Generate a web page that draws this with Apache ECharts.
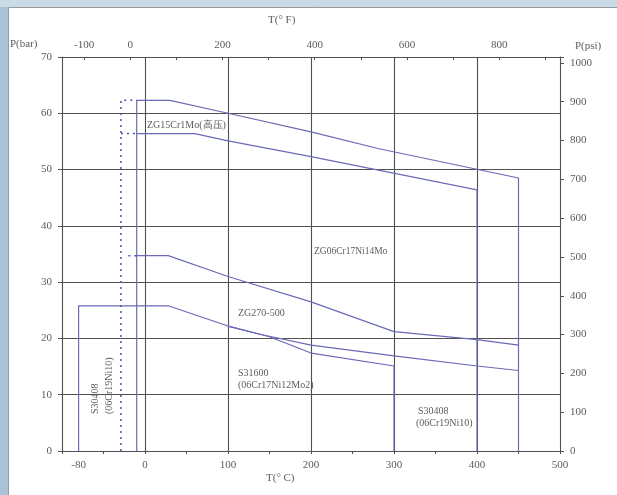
<!DOCTYPE html>
<html>
<head>
<meta charset="utf-8">
<script src="https://cdn.jsdelivr.net/npm/echarts@6/dist/echarts.min.js"></script>
<style>
html, body { margin: 0; padding: 0; background: #fff; }
#chart { width: 617px; height: 495px; }
</style>
</head>
<body>
<div id="chart"></div>
<script>
'use strict';

// 轴刻度 (T in °C on the bottom, °F on top; P in bar on the left, psi on the right)
var tempLabels = [-80, 0, 100, 200, 300, 400, 500];
var fahrLabels = [-100, 0, 200, 400, 600, 800];
var fahrTicks = [-100, 0, 100, 200, 300, 400, 500, 600, 700, 800, 900];

// ZG15Cr1Mo(高压) 外包线
var hiTemp = [-10, -10, 30, 100, 200, 282, 450, 450];
var hiBar = [0, 62.3, 62.3, 60.0, 56.7, 53.7, 48.5, 0];
// ZG06Cr17Ni14Mo
var moTemp = [-10, 60, 100, 200, 400, 400];
var moBar = [56.4, 56.4, 55.1, 52.3, 46.4, 0];
// ZG270-500
var csTemp = [-10, 28, 100, 200, 300, 400, 450];
var csBar = [34.7, 34.7, 31.0, 26.5, 21.2, 19.8, 18.8];
// S30408 (06Cr19Ni10)
var s304Temp = [-80, -80, 28, 100, 140, 200, 300, 400, 450];
var s304Bar = [0, 25.8, 25.8, 22.2, 20.7, 18.8, 16.9, 15.1, 14.3];
// S31600 (06Cr17Ni12Mo2)
var s316Temp = [100, 150, 200, 300, 300];
var s316Bar = [22.2, 20.3, 17.4, 15.1, 0];
// 虚线 (-29℃)
var dotTemp1 = [-29, -29, -10];
var dotBar1 = [0, 62.3, 62.3];
var dotTemp2 = [-29, -10];
var dotBar2 = [56.4, 56.4];
var dotTemp3 = [-20, -10];
var dotBar3 = [34.7, 34.7];

var BAR_TO_PSI = 14.5038;
var serif = '"Liberation Serif", "DejaVu Serif", serif';
var gridColor = '#505050';
var lineColor = '#6a6ab8';
var textColor = '#5c5c5c';

function pairs(xs, ys) {
  return xs.map(function (x, i) { return [x, ys[i]]; });
}

function solid(name, xs, ys) {
  return {
    name: name,
    type: 'line',
    data: pairs(xs, ys),
    symbol: 'none',
    silent: true,
    lineStyle: { color: lineColor, width: 1.2 }
  };
}

function dotted(name, xs, ys) {
  return {
    name: name,
    type: 'line',
    data: pairs(xs, ys),
    symbol: 'none',
    silent: true,
    lineStyle: { color: '#5050a8', width: 1.5, type: [2, 4] }
  };
}

function txt(x, y, s, size, rot) {
  return {
    type: 'text',
    x: x,
    y: y,
    rotation: rot || 0,
    style: {
      text: s,
      fill: textColor,
      font: (size || 10) + 'px ' + serif,
      textVerticalAlign: 'middle'
    },
    z: 10
  };
}

var myChart = echarts.init(document.getElementById('chart'));

var option = {
  animation: false,
  backgroundColor: '#fff',
  grid: { left: 62, right: 57, top: 57, bottom: 44 },
  xAxis: [{
    type: 'value',
    position: 'bottom',
    min: -100,
    max: 500,
    interval: 100,
    axisLine: { onZero: false, lineStyle: { color: gridColor } },
    axisTick: { length: 3, lineStyle: { color: gridColor } },
    minorTick: { show: true, splitNumber: 2, length: 3, lineStyle: { color: gridColor } },
    axisLabel: { customValues: tempLabels, color: textColor, fontFamily: serif, fontSize: 11, margin: 9 },
    splitLine: { show: true, lineStyle: { color: gridColor, width: 1.1 } }
  }, {
    type: 'value',
    position: 'top',
    min: -148,
    max: 932,
    axisLine: { onZero: false, lineStyle: { color: gridColor } },
    axisTick: { customValues: fahrTicks, inside: true, length: 3, lineStyle: { color: gridColor } },
    axisLabel: { customValues: fahrLabels, color: textColor, fontFamily: serif, fontSize: 11, margin: 6 },
    splitLine: { show: false }
  }],
  yAxis: [{
    type: 'value',
    position: 'left',
    min: 0,
    max: 70,
    interval: 10,
    axisLine: { show: true, onZero: false, lineStyle: { color: gridColor } },
    axisTick: { show: true, length: 4, lineStyle: { color: gridColor } },
    axisLabel: { color: textColor, fontFamily: serif, fontSize: 11, margin: 10 },
    splitLine: { show: true, lineStyle: { color: gridColor, width: 1.1 } }
  }, {
    type: 'value',
    position: 'right',
    min: 0,
    max: 70 * BAR_TO_PSI,
    interval: 100,
    axisLine: { show: true, onZero: false, lineStyle: { color: gridColor } },
    axisTick: { show: true, length: 4, lineStyle: { color: gridColor } },
    axisLabel: { color: textColor, fontFamily: serif, fontSize: 11, margin: 10,
      formatter: function (v) { return v > 1001 ? '' : Math.round(v); } },
    splitLine: { show: false }
  }],
  series: [
    solid('ZG15Cr1Mo(高压)', hiTemp, hiBar),
    solid('ZG06Cr17Ni14Mo', moTemp, moBar),
    solid('ZG270-500', csTemp, csBar),
    solid('S30408', s304Temp, s304Bar),
    solid('S31600', s316Temp, s316Bar),
    dotted('dot1', dotTemp1, dotBar1),
    dotted('dot2', dotTemp2, dotBar2),
    dotted('dot3', dotTemp3, dotBar3)
  ],
  graphic: [
    // 截图边框
    { type: 'rect', shape: { x: 0, y: 0, width: 8, height: 495 }, style: { fill: '#a8c2d6' }, z: 0 },
    { type: 'rect', shape: { x: 0, y: 0, width: 617, height: 7 }, style: { fill: '#c8dbe6' }, z: 0 },
    { type: 'rect', shape: { x: 8.5, y: 7.5, width: 620, height: 500 }, style: { fill: 'none', stroke: '#9a9a9a', lineWidth: 1 }, z: 0 },
    txt(268, 20, 'T(° F)', 11),
    txt(10, 44, 'P(bar)', 11),
    txt(575, 46, 'P(psi)', 11),
    txt(266, 478, 'T(° C)', 11),
    txt(147, 125, 'ZG15Cr1Mo(高压)', 10),
    txt(314, 251, 'ZG06Cr17Ni14Mo', 9.5),
    txt(238, 313, 'ZG270-500', 10),
    txt(238, 373, 'S31600', 10),
    txt(238, 385, '(06Cr17Ni12Mo2)', 10),
    txt(418, 411, 'S30408', 10),
    txt(416, 423, '(06Cr19Ni10)', 10),
    txt(95, 414, 'S30408', 10, Math.PI / 2),
    txt(109, 414, '(06Cr19Ni10)', 10, Math.PI / 2)
  ]
};

myChart.setOption(option);
</script>
</body>
</html>
